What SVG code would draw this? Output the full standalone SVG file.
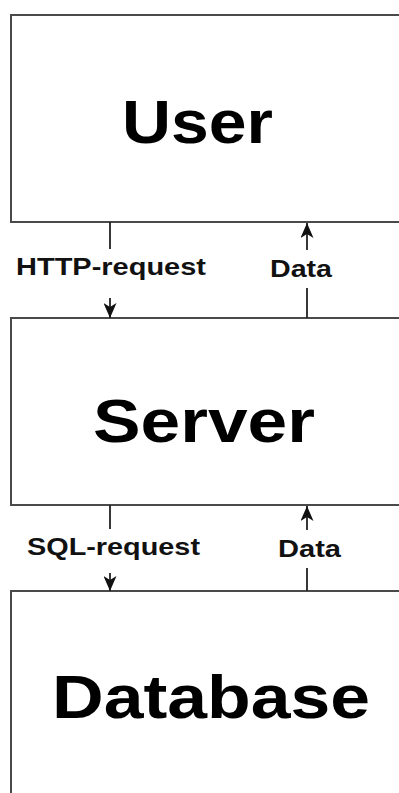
<svg xmlns="http://www.w3.org/2000/svg" width="399" height="793" viewBox="0 0 399 793">
  <style>
    .box { fill: #ffffff; stroke: #4a4a4a; stroke-width: 2; }
    .title { font-family: "Liberation Sans", Arial, sans-serif; font-weight: bold; font-size: 62px; fill: #000; }
    .label { font-family: "Liberation Sans", Arial, sans-serif; font-weight: bold; font-size: 24px; fill: #111; }
    .wire { stroke: #222; stroke-width: 1.8; fill: none; }
  </style>
  <defs>
    <!-- upward arrowhead, tip at the line end -->
    <marker id="tip" viewBox="0 0 13 15" refX="6.5" refY="0" markerWidth="13" markerHeight="15" markerUnits="userSpaceOnUse" orient="0">
      <path d="M6.5,0 L13,15 L6.5,11 L0,15 Z" fill="#111"/>
    </marker>
    <!-- downward arrowhead, tip at the line end -->
    <marker id="tipDown" viewBox="0 0 13 15" refX="6.5" refY="15" markerWidth="13" markerHeight="15" markerUnits="userSpaceOnUse" orient="0">
      <path d="M6.5,15 L13,0 L6.5,4 L0,0 Z" fill="#111"/>
    </marker>
  </defs>

  <g id="user">
    <rect class="box" x="11" y="15" width="400" height="207"/>
    <text class="title" x="122" y="143" textLength="151" lengthAdjust="spacingAndGlyphs">User</text>
  </g>

  <g id="server">
    <rect class="box" x="11" y="318" width="400" height="187"/>
    <text class="title" x="93" y="442" textLength="222" lengthAdjust="spacingAndGlyphs">Server</text>
  </g>

  <g id="database">
    <rect class="box" x="11" y="591" width="400" height="220"/>
    <text class="title" x="52" y="718" font-size="65" textLength="318" lengthAdjust="spacingAndGlyphs">Database</text>
  </g>

  <g id="connectors">
    <!-- User to Server: HTTP request -->
    <line class="wire" x1="110" y1="222" x2="110" y2="249"/>
    <line class="wire" x1="110" y1="298" x2="110" y2="318" marker-end="url(#tipDown)"/>
    <text class="label" x="16" y="275" textLength="190" lengthAdjust="spacingAndGlyphs">HTTP-request</text>

    <!-- Server to User: data -->
    <line class="wire" x1="307" y1="250" x2="307" y2="223" marker-end="url(#tip)"/>
    <line class="wire" x1="307" y1="288" x2="307" y2="318"/>
    <text class="label" x="270" y="277" textLength="62" lengthAdjust="spacingAndGlyphs">Data</text>

    <!-- Server to Database: SQL request -->
    <line class="wire" x1="110" y1="505" x2="110" y2="529"/>
    <line class="wire" x1="110" y1="573" x2="110" y2="591" marker-end="url(#tipDown)"/>
    <text class="label" x="27" y="555" textLength="173" lengthAdjust="spacingAndGlyphs">SQL-request</text>

    <!-- Database to Server: data -->
    <line class="wire" x1="307" y1="530" x2="307" y2="506" marker-end="url(#tip)"/>
    <line class="wire" x1="307" y1="568" x2="307" y2="591"/>
    <text class="label" x="278" y="557" textLength="63" lengthAdjust="spacingAndGlyphs">Data</text>
  </g>
</svg>
